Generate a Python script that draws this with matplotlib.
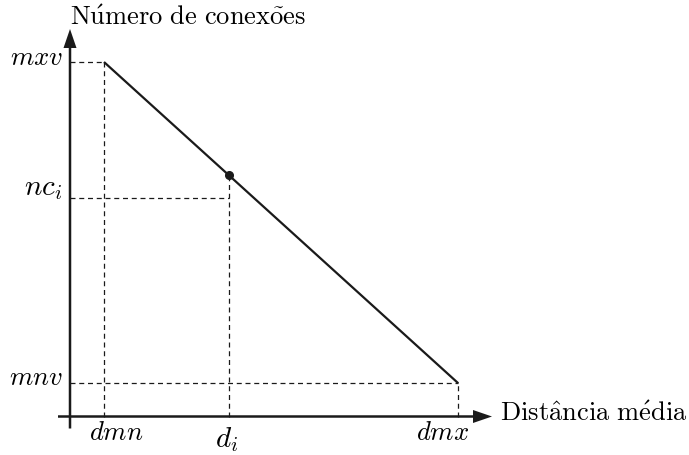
import matplotlib
matplotlib.use("Agg")
import matplotlib.pyplot as plt

plt.rcParams['mathtext.fontset'] = 'cm'

# data values (x: distance, y: connections)
x_labels = ["$dmn$", "$d_i$", "$dmx$"]
x_values = [34.0, 158.5, 388.3]
y_labels = ["$mnv$", "$nc_i$", "$mxv$"]
y_values = [33.2, 218.8, 354.5]
line_x = [34.0, 388.3]
line_y = [354.5, 33.2]
point_x = [158.5]
point_y = [242.0]
xlabel = r"$\mathrm{Dist\hat{a}ncia\ m\acute{e}dia}$"
ylabel = r"$\mathrm{N\acute{u}mero\ de\ conex\tilde{o}es}$"

fig = plt.figure(figsize=(6.89, 4.55), dpi=100)
ax = fig.add_axes([0, 0, 1, 1])
ax.set_xlim(-70, 619)
ax.set_ylim(-38.5, 416.5)
ax.axis('off')

col = '#1a1a1a'
# axes arrows
ax.arrow(-12, 0, 434, 0, width=2.5, head_width=13, head_length=19,
         length_includes_head=True, color=col, lw=0)
ax.arrow(0, -12, 0, 399.5, width=2.5, head_width=13, head_length=19,
         length_includes_head=True, color=col, lw=0)

dash = dict(color=col, lw=0.9, ls=(0, (4, 3)))
dmn, di, dmx = x_values
mnv, nci, mxv = y_values
# dashed guides
ax.plot([dmn, dmn], [0, mxv], **dash)
ax.plot([0, dmn], [mxv, mxv], **dash)
ax.plot([0, dmx], [mnv, mnv], **dash)
ax.plot([dmx, dmx], [0, mnv], **dash)
ax.plot([0, di], [nci, nci], **dash)
ax.plot([di, di], [0, point_y[0]], **dash)

ax.plot(line_x, line_y, color=col, lw=1.6, solid_capstyle='butt')
ax.plot(point_x, point_y, 'o', color=col, ms=5.5)

# y labels
ax.text(-7, 351.5, y_labels[2], ha='right', va='baseline', fontsize=19.2)
ax.text(-8, 221.5, y_labels[1], ha='right', va='baseline', fontsize=21)
ax.text(-7, 31.5, y_labels[0], ha='right', va='baseline', fontsize=19.2)
# x labels
ax.text(46, -23.5, x_labels[0], ha='center', va='baseline', fontsize=19.2)
ax.text(157, -30.5, x_labels[1], ha='center', va='baseline', fontsize=21)
ax.text(372.5, -23.5, x_labels[2], ha='center', va='baseline', fontsize=19.2)

ax.text(430, -4.5, xlabel, ha='left', va='baseline', fontsize=19.1)
ax.text(0, 391.5, ylabel, ha='left', va='baseline', fontsize=19.1)

fig.savefig("out.png", dpi=100)
